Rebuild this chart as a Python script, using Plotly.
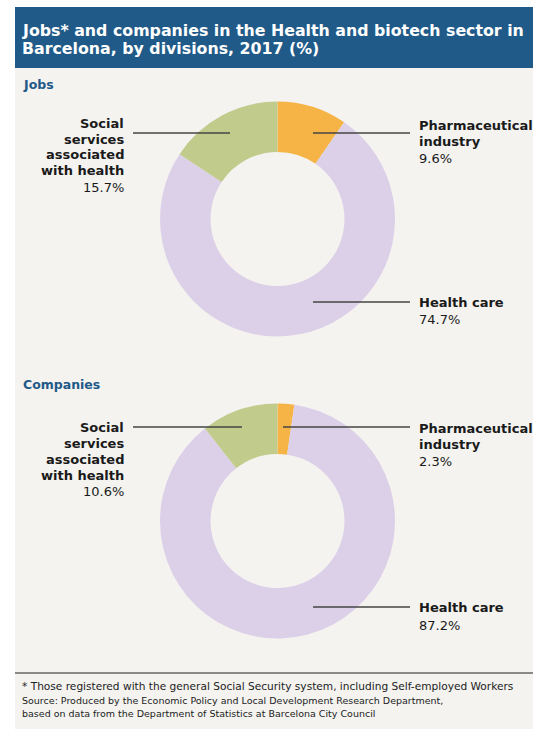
'''
    Donut charts: jobs and companies in the Health and biotech sector, Barcelona 2017
'''
import plotly.graph_objects as go

W, H = 533, 729

divisions = ['Pharmaceutical industry', 'Health care', 'Social services associated with health']
jobs_pct = [9.6, 74.7, 15.7]
companies_pct = [2.3, 87.2, 10.6]
division_colors = ['#f5b445', '#dcd0e8', '#c1cc8c']

title_lines = ['Jobs* and companies in the Health and biotech sector in',
               'Barcelona, by divisions, 2017 (%)']
panel_titles = ['Jobs', 'Companies']
footnote = '* Those registered with the general Social Security system, including Self-employed Workers'
source_lines = ['Source: Produced by the Economic Policy and Local Development Research Department,',
                'based on data from the Department of Statistics at Barcelona City Council']

BG = '#f4f3f0'
BLUE = '#1f5a88'
FONT = 'DejaVu Sans'
INK = '#1a1a1a'


def px(x):
    return x / W


def py(y):
    return 1 - y / H


def text_lines(lines, x, y_first, step, anchor, size=13, color=INK):
    '''one annotation per line so the leading can be set freely'''
    out = []
    for i, (txt, bold) in enumerate(lines):
        out.append(dict(
            text=txt, x=px(x), y=py(y_first + i * step), xanchor=anchor, yanchor='middle',
            font=dict(family=FONT, size=size, color=color, weight='bold' if bold else 'normal')
        ))
    return out


fig = go.Figure()

# two donuts, clockwise from 12 o'clock
for values, (y0, y1) in [(jobs_pct, (100, 338)), (companies_pct, (402, 640))]:
    fig.add_trace(go.Pie(
        labels=divisions,
        values=values,
        hole=0.57,
        sort=False,
        direction='clockwise',
        rotation=0,
        marker=dict(colors=division_colors, line=dict(width=0)),
        textinfo='none',
        hoverinfo='label+percent',
        showlegend=False,
        domain=dict(x=[px(160), px(395)], y=[py(y1), py(y0)])
    ))

shapes = [
    # panel background
    dict(type='rect', xref='paper', yref='paper', x0=px(15), x1=1, y0=0, y1=py(68),
         fillcolor=BG, line=dict(width=0), layer='below'),
    # title bar
    dict(type='rect', xref='paper', yref='paper', x0=px(15), x1=1, y0=py(68), y1=py(7),
         fillcolor=BLUE, line=dict(width=0), layer='below'),
    # footer separator
    dict(type='line', xref='paper', yref='paper', x0=px(15), x1=1, y0=py(673), y1=py(673),
         line=dict(color='#222222', width=1.2)),
]

annotations = []
annotations += text_lines([(t, True) for t in title_lines], 20, 30, 18, 'left', size=15.8, color='white')
annotations += text_lines([(panel_titles[0], True)], 21, 85, 0, 'left', size=12.5, color=BLUE)
annotations += text_lines([(panel_titles[1], True)], 21, 384, 0, 'left', size=12.5, color=BLUE)
annotations += text_lines([(footnote, False)], 20, 686, 0, 'left', size=10.6, color='#222222')
annotations += text_lines([(t, False) for t in source_lines], 20, 700, 13, 'left', size=9.5, color='#222222')

line_style = dict(color='#444444', width=1.3)

# leader lines and labels
# (values, social line y, social text y, pharma line y, pharma text y, health line y,
#  social line end x, pharma line start x)
for values, ly_soc, ty_soc, ly_pha, ty_pha, y_hc, soc_x1, pha_x0 in [
    (jobs_pct, 133, 123, 133, 125, 302, 230, 313),
    (companies_pct, 427, 427, 427, 428, 607, 242, 283),
]:
    shapes.append(dict(type='line', xref='paper', yref='paper', x0=px(133), x1=px(soc_x1),
                       y0=py(ly_soc), y1=py(ly_soc), line=line_style))
    shapes.append(dict(type='line', xref='paper', yref='paper', x0=px(pha_x0), x1=px(410),
                       y0=py(ly_pha), y1=py(ly_pha), line=line_style))
    shapes.append(dict(type='line', xref='paper', yref='paper', x0=px(313), x1=px(410),
                       y0=py(y_hc), y1=py(y_hc), line=line_style))

    annotations += text_lines(
        [('Social', True), ('services', True), ('associated', True), ('with health', True),
         (f'{values[2]:.1f}%', False)], 126, ty_soc, 16, 'right')
    annotations += text_lines(
        [('Pharmaceutical', True), ('industry', True), (f'{values[0]:.1f}%', False)],
        417, ty_pha, 16.5, 'left')
    annotations += text_lines(
        [('Health care', True), (f'{values[1]:.1f}%', False)], 417, y_hc, 18, 'left')

for a in annotations:
    a['showarrow'] = False
    a['xref'] = 'paper'
    a['yref'] = 'paper'

fig.update_layout(
    width=W,
    height=H,
    margin=dict(l=0, r=0, t=0, b=0),
    paper_bgcolor='white',
    plot_bgcolor='white',
    shapes=shapes,
    annotations=annotations,
    dragmode=False
)

# drop the default page margin so the figure fills the window exactly
fig.write_html('out.html', config=dict(displayModeBar=False),
               post_script="document.body.style.margin='0';")
